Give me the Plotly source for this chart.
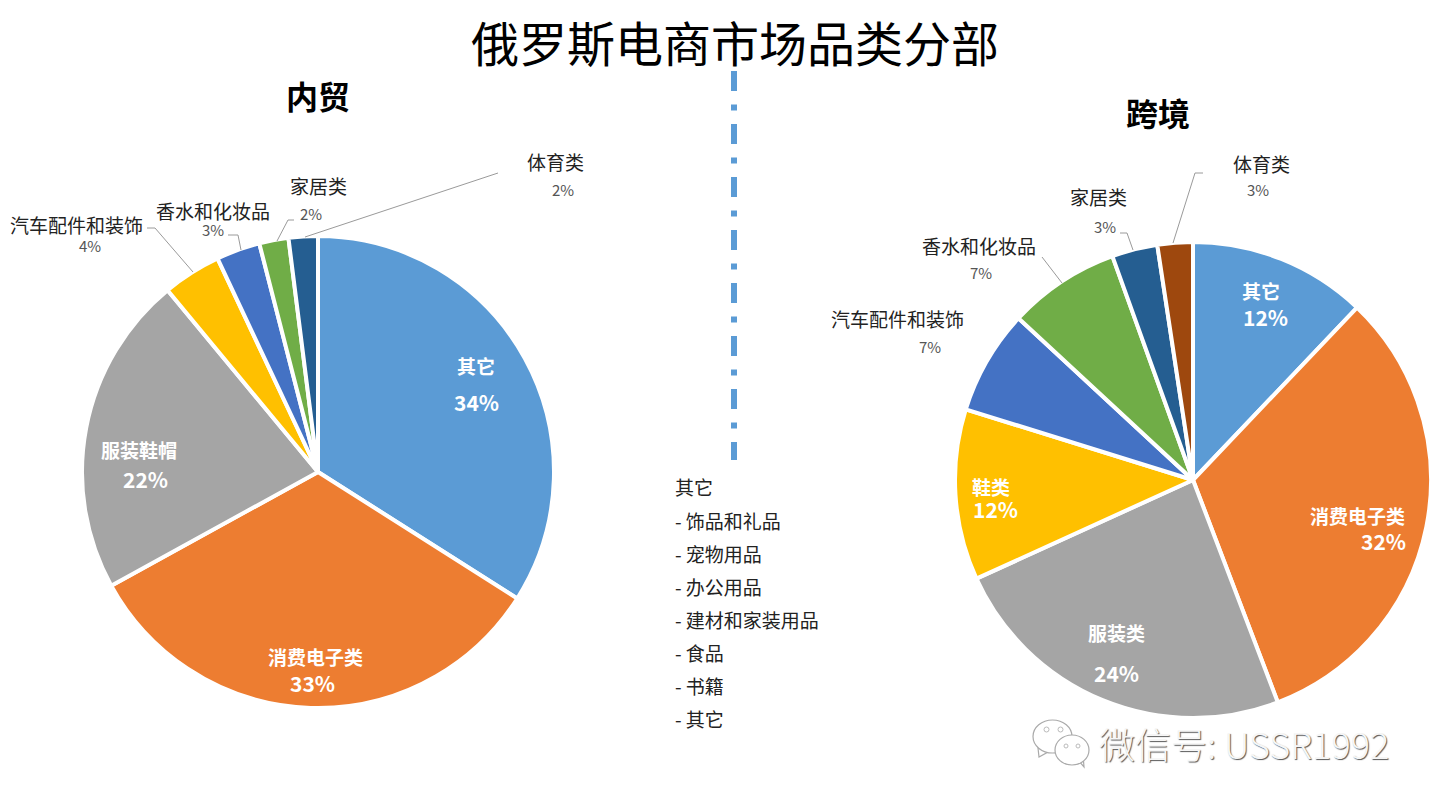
import plotly.graph_objects as go

W, H = 1441, 810
FONT = "Noto Sans CJK SC"

title = "俄罗斯电商市场品类分部"
left_title = "内贸"
right_title = "跨境"

left_labels = ["其它", "消费电子类", "服装鞋帽", "汽车配件和装饰", "香水和化妆品", "家居类", "体育类"]
left_values = [34, 33, 22, 4, 3, 2, 2]
left_percent = ["34%", "33%", "22%", "4%", "3%", "2%", "2%"]
left_colors = ["#5B9BD5", "#ED7D31", "#A5A5A5", "#FFC000", "#4472C4", "#70AD47", "#255E91"]

right_labels = ["其它", "消费电子类", "服装类", "鞋类", "汽车配件和装饰", "香水和化妆品", "家居类", "体育类"]
right_values = [12.1, 32.1, 24, 11.6, 7.1, 7.6, 3.1, 2.4]
right_percent = ["12%", "32%", "24%", "12%", "7%", "7%", "3%", "3%"]
right_colors = ["#5B9BD5", "#ED7D31", "#A5A5A5", "#FFC000", "#4472C4", "#70AD47", "#255E91", "#9E480E"]

note_lines = ["其它", "- 饰品和礼品", "- 宠物用品", "- 办公用品", "- 建材和家装用品", "- 食品", "- 书籍", "- 其它"]
watermark = "微信号: USSR1992"

# label placement: (name x, name y, pct x, pct y) in page pixels
left_pos = [(476, 365, 476, 402), (315, 656, 312, 683), (139, 449, 145, 479),
            (76, 224, 90, 245), (213, 210, 213, 229), (318, 185, 311, 213), (555, 162, 563, 190)]
left_inside = [True, True, True, False, False, False, False]
right_pos = [(1261, 290, 1265, 317), (1357, 515, 1383, 541), (1116, 632, 1116, 673), (991, 487, 995, 509),
             (897, 318, 930, 346), (979, 245, 981, 272), (1098, 196, 1105, 226), (1261, 163, 1258, 190)]
right_inside = [True, True, True, True, False, False, False, False]

left_leaders = [[(147, 228), (155, 228), (193, 272)], [(228, 235), (238, 235), (241, 250)],
                [(294, 220), (288, 220), (277, 241)], [(498, 173), (305, 237)]]
right_leaders = [[(1042, 257), (1062, 283)], [(1120, 233), (1127, 233), (1133, 250)],
                 [(1203, 173), (1195, 173), (1173, 243)]]


def px(x):
    return x / W


def py(y):
    return 1 - y / H


def pie(labels, values, colors, cx, cy, r):
    return go.Pie(
        labels=labels, values=values, sort=False, direction="clockwise", rotation=0,
        marker=dict(colors=colors, line=dict(color="white", width=4)),
        textinfo="none", hoverinfo="label+percent", showlegend=False,
        domain=dict(x=[px(cx - r), px(cx + r)], y=[py(cy + r), py(cy - r)]),
    )


fig = go.Figure([
    pie(left_labels, left_values, left_colors, 318, 472, 236),
    pie(right_labels, right_values, right_colors, 1193, 480, 238),
])

ann = []


def text(x, y, s, size, color="#1a1a1a", bold=False, anchor="center", **font_extra):
    ann.append(dict(
        x=px(x), y=py(y), xref="paper", yref="paper", text=f"<b>{s}</b>" if bold else s,
        showarrow=False, xanchor=anchor, yanchor="middle",
        font=dict(family=FONT, size=size, color=color, **font_extra),
    ))


text(735, 41, title, 48, "#000000")
text(318, 95, left_title, 32, "#000000", bold=True)
text(1158, 112, right_title, 32, "#000000", bold=True)

for labels, pcts, pos, inside in [(left_labels, left_percent, left_pos, left_inside),
                                  (right_labels, right_percent, right_pos, right_inside)]:
    for lab, pct, (nx, ny, vx, vy), ins in zip(labels, pcts, pos, inside):
        if ins:
            text(nx, ny, lab, 19, "#ffffff", bold=True)
            text(vx, vy, pct, 21, "#ffffff", bold=True)
        else:
            text(nx, ny, lab, 19, "#222222")
            text(vx, vy, pct, 15, "#555555")

for i, line in enumerate(note_lines):
    text(673, 487 + 33 * i, line, 19, "#222222", anchor="left")

text(1097, 743, watermark, 36, "#f6f6f6", anchor="left", weight=300, shadow="1px 1px 1px #555555")

shapes = [dict(type="line", xref="paper", yref="paper", x0=px(734), x1=px(734), y0=py(71), y1=py(460),
               line=dict(color="#5B9BD5", width=6, dash="20px,13.5px,6px,13.5px"))]

for pts in left_leaders + right_leaders:
    path = "M " + " L ".join(f"{px(x)} {py(y)}" for x, y in pts)
    shapes.append(dict(type="path", xref="paper", yref="paper", path=path,
                       line=dict(color="#9a9a9a", width=1)))


def circle(x0, y0, x1, y1, fill="white", color="#aaaaaa", width=1.2):
    shapes.append(dict(type="circle", xref="paper", yref="paper", x0=px(x0), x1=px(x1),
                       y0=py(y1), y1=py(y0), fillcolor=fill, line=dict(color=color, width=width)))


def tail(pts):
    path = "M " + " L ".join(f"{px(x)} {py(y)}" for x, y in pts) + " Z"
    shapes.append(dict(type="path", xref="paper", yref="paper", path=path, fillcolor="white",
                       line=dict(color="#aaaaaa", width=1.2)))


# WeChat icon in the watermark
tail([(1038, 748), (1039, 757), (1048, 752)])
circle(1033, 720, 1072, 753)
circle(1044, 727, 1049, 732, color="#bbbbbb", width=1)
circle(1058, 727, 1063, 732, color="#bbbbbb", width=1)
tail([(1078, 760), (1084, 767), (1083, 755)])
circle(1055, 735, 1089, 765)
circle(1064, 744, 1068, 748, color="#bbbbbb", width=1)
circle(1076, 744, 1080, 748, color="#bbbbbb", width=1)

fig.update_layout(
    width=W, height=H, margin=dict(l=0, r=0, t=0, b=0), autosize=False,
    paper_bgcolor="white", plot_bgcolor="white",
    annotations=ann, shapes=shapes,
)
fig.write_html("out.html", config={"displayModeBar": False},
               post_script="document.body.style.margin='0';document.body.style.overflow='hidden';")
